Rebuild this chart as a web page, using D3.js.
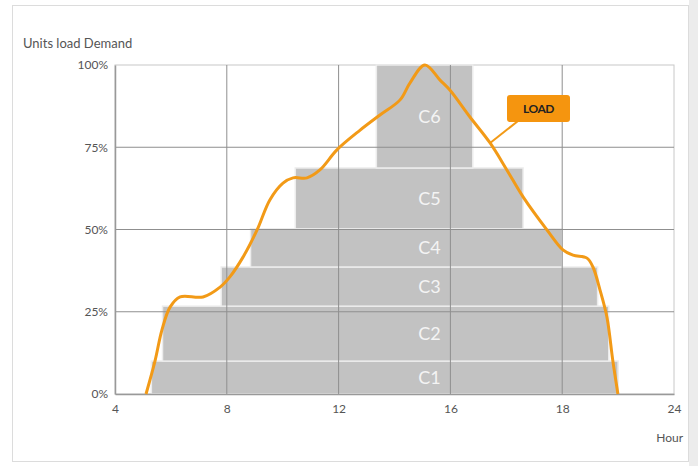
<!DOCTYPE html>
<html><head><meta charset="utf-8">
<script src="https://cdn.jsdelivr.net/npm/d3@7"></script>
<style>body{margin:0;background:#fff;} text{font-family:"Lato","Noto Sans",sans-serif;}</style>
</head><body><svg id="c" width="698" height="466"></svg>
<script>
// tick labels (evenly spaced on the axis)
const hourTicks = [4, 8, 12, 16, 18, 24];
const pctTicks = [0, 25, 50, 75, 100];
// capacity blocks C1..C6: hour span and load band (%)
const blockNames = ["C1", "C2", "C3", "C4", "C5", "C6"];
const blockStart = [5.3, 5.7, 7.8, 8.85, 10.45, 13.35];
const blockEnd   = [21.0, 20.5, 19.9, 18.0, 17.3, 16.4];
const blockLow   = [0, 10, 26.7, 38.6, 50.2, 68.7];
const blockHigh  = [10, 26.7, 38.6, 50.2, 68.7, 100];
// load curve
const loadHour = [5.11, 5.43, 5.68, 5.97, 6.33, 7.15, 7.76, 8.11, 8.58, 9.08, 9.54, 10.01, 10.37, 10.87, 11.33, 11.94, 12.77, 13.48, 14.2, 14.55, 15.09, 15.63, 15.98, 16.35, 16.71, 17.01, 17.30, 17.73, 18.04, 18.58, 19.33, 19.65, 20.03, 20.40, 20.72, 20.99];
const loadPct  = [0, 10, 19.5, 26.4, 29.5, 29.5, 32.5, 35.6, 41.6, 49.8, 59, 64.1, 65.7, 65.7, 68.1, 74.2, 80.2, 84.8, 89.4, 94.5, 100, 95.4, 92.4, 84.2, 76.3, 68.1, 59.9, 49.8, 43.8, 42.2, 41.3, 38.6, 31.6, 23.4, 10, 0];

const svg = d3.select("#c");
const L = 115, R = 674, T = 65, B = 394;
const step = (R - L) / (hourTicks.length - 1);
const x = d3.scaleLinear().domain(hourTicks).range(hourTicks.map((d, i) => L + i * step));
const y = d3.scaleLinear().domain([0, 100]).range([B, T]);

// frame
svg.append("rect").attr("x", 689).attr("y", 0).attr("width", 9).attr("height", 466).attr("fill", "#ececec");
svg.append("rect").attr("x", 12.5).attr("y", 5.5).attr("width", 676).attr("height", 456).attr("fill", "#fff").attr("stroke", "#dcdcdc");

// plot border (top/right)
svg.append("rect").attr("x", L).attr("y", T).attr("width", R - L).attr("height", B - T)
  .attr("fill", "none").attr("stroke", "#c8c8c8").attr("stroke-width", 1);

// blocks
const blocks = blockNames.map((n, i) => ({n, s: blockStart[i], e: blockEnd[i], lo: blockLow[i], hi: blockHigh[i]}));
svg.append("g").selectAll("rect").data(blocks).join("rect")
  .attr("x", d => x(d.s)).attr("width", d => x(d.e) - x(d.s))
  .attr("y", d => y(d.hi)).attr("height", d => y(d.lo) - y(d.hi))
  .attr("fill", "#c2c2c2").attr("stroke", "#ececec").attr("stroke-width", 1.5);

// gridlines
const g = svg.append("g");
g.selectAll("line.v").data(hourTicks.slice(1, -1)).join("line")
  .attr("x1", d => x(d)).attr("x2", d => x(d)).attr("y1", T).attr("y2", B)
  .attr("stroke", "#8f8f8f").attr("stroke-width", 1);
g.selectAll("line.h").data(pctTicks.slice(1, -1)).join("line")
  .attr("x1", L).attr("x2", R).attr("y1", d => y(d)).attr("y2", d => y(d))
  .attr("stroke", "#8f8f8f").attr("stroke-width", 1);

// axes
const xAxis = d3.axisBottom(x).tickValues(hourTicks).tickSize(0).tickPadding(10).tickFormat(d => d);
const xa = svg.append("g").attr("transform", `translate(0,${B})`).call(xAxis);
xa.select(".domain").attr("stroke", "#999").attr("stroke-width", 1.5);
xa.selectAll("text").attr("fill", "#555").attr("font-size", 12).attr("font-family", "Lato, sans-serif");
const yAxis = d3.axisLeft(y).tickValues(pctTicks).tickSize(0).tickPadding(7).tickFormat(d => d + "%");
const ya = svg.append("g").attr("transform", `translate(${L},0)`).call(yAxis);
ya.select(".domain").attr("stroke", "#999").attr("stroke-width", 1.5);
ya.selectAll("text").attr("fill", "#555").attr("font-size", 12).attr("font-family", "Lato, sans-serif");

// block labels
svg.append("g").selectAll("text").data(blocks).join("text")
  .attr("x", x(15.25)).attr("y", d => (y(d.lo) + y(d.hi)) / 2).attr("dy", "0.36em")
  .attr("text-anchor", "middle").attr("fill", "#f4f4f4").attr("font-size", 18)
  .text(d => d.n);

// load curve
const pts = loadHour.map((h, i) => [h, loadPct[i]]);
svg.append("path").datum(pts)
  .attr("d", d3.line().x(d => x(d[0])).y(d => y(d[1])).curve(d3.curveCatmullRom.alpha(0.5)))
  .attr("fill", "none").attr("stroke", "#F29A17").attr("stroke-width", 3).attr("stroke-linejoin", "round");

// LOAD callout
const anchor = [16.71, 76.3];
svg.append("line").attr("x1", x(anchor[0])).attr("y1", y(anchor[1])).attr("x2", 518).attr("y2", 121)
  .attr("stroke", "#F29A17").attr("stroke-width", 2);
svg.append("rect").attr("x", 507).attr("y", 95).attr("width", 63).attr("height", 27).attr("rx", 3)
  .attr("fill", "#F5950F");
svg.append("text").attr("x", 538.5).attr("y", 108.5).attr("dy", "0.36em").attr("text-anchor", "middle")
  .attr("font-size", 12).attr("font-weight", "bold").attr("fill", "#222").attr("letter-spacing", "-0.5").text("LOAD");

// titles
svg.append("text").attr("x", 23).attr("y", 48).attr("font-size", 13).attr("fill", "#555").text("Units load Demand");
svg.append("text").attr("x", 683).attr("y", 442).attr("text-anchor", "end").attr("font-size", 12).attr("fill", "#555").text("Hour");
</script></body></html>
